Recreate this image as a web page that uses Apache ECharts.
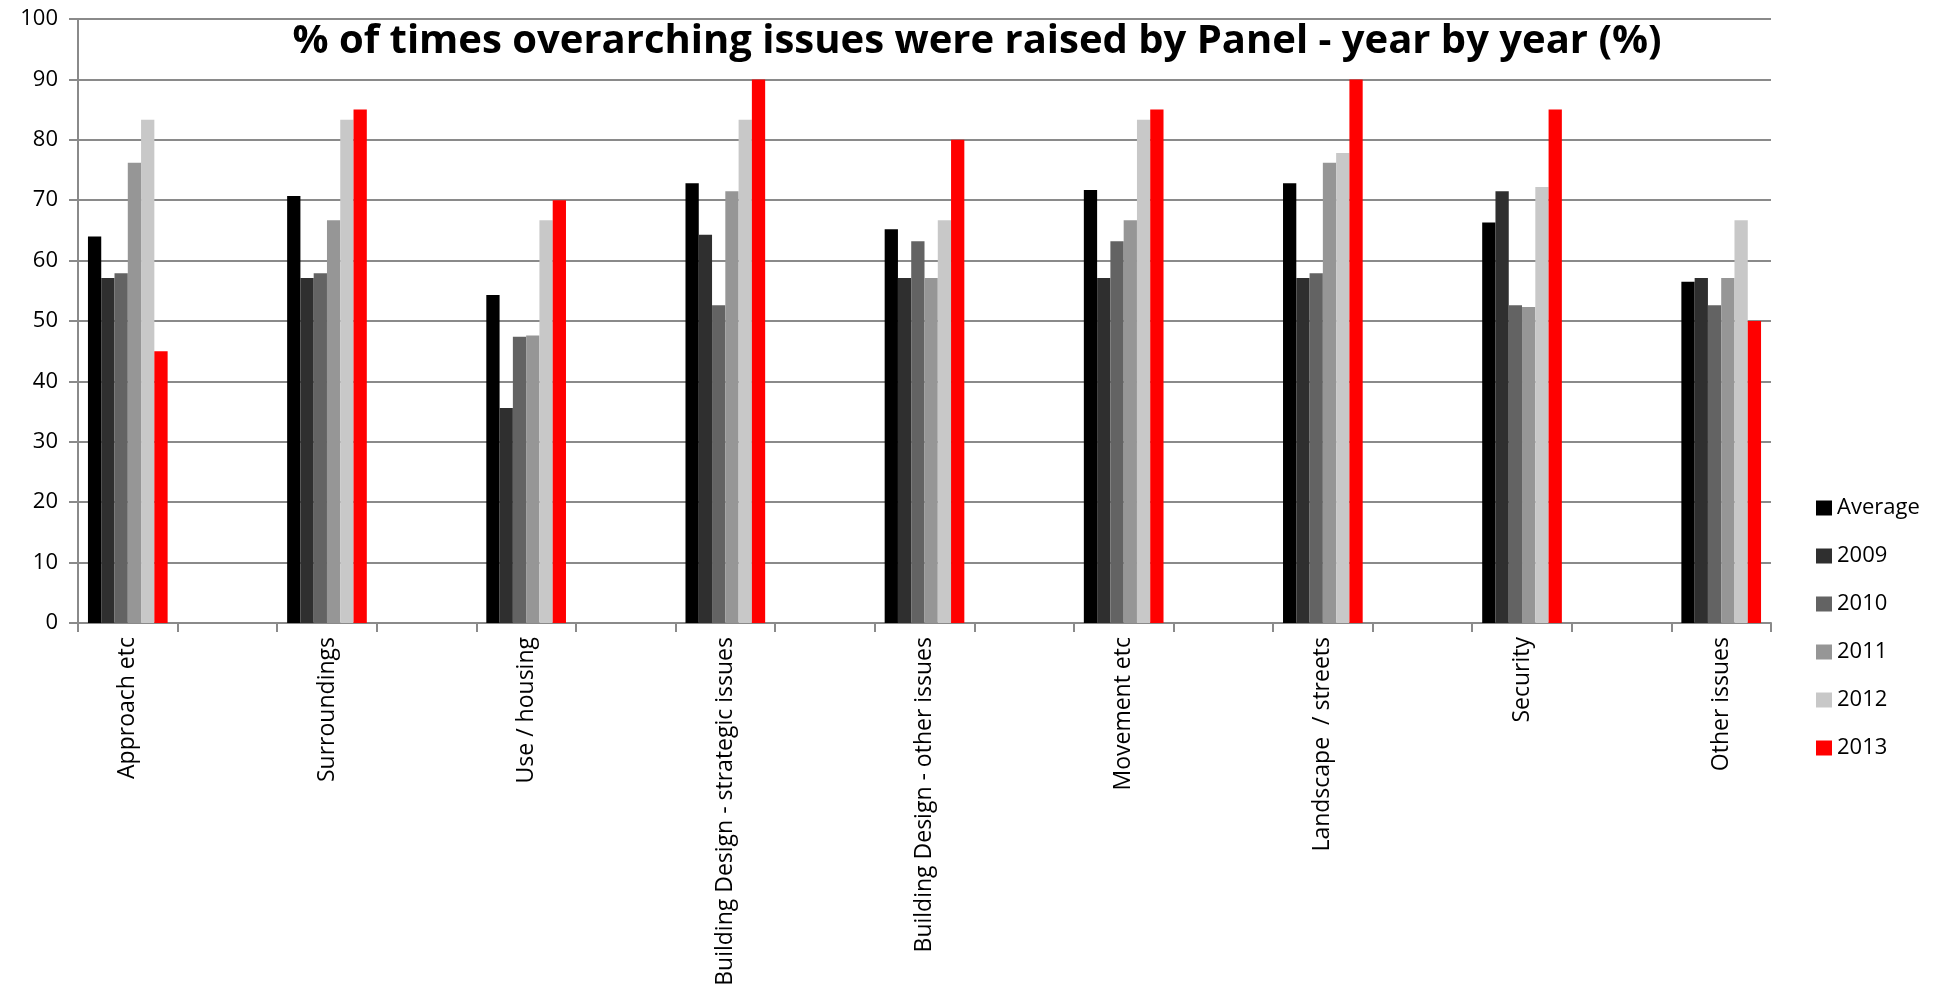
<!DOCTYPE html>
<html>
<head>
<meta charset="utf-8">
<title>Overarching issues raised by Panel</title>
<script src="https://cdn.jsdelivr.net/npm/echarts@6/dist/echarts.min.js"></script>
<style>
  html, body { margin: 0; padding: 0; background: #ffffff; }
  #chart { width: 1945px; height: 997px; }
</style>
</head>
<body>
<div id="chart"></div>
<script>
// Issue categories (a blank spacer slot is placed between each pair on the axis)
const categories = [
  'Approach etc',
  'Surroundings',
  'Use / housing',
  'Building Design - strategic issues',
  'Building Design - other issues',
  'Movement etc',
  'Landscape  / streets',
  'Security',
  'Other issues'
];

// Percentage of times each issue was raised
const average = [64.0, 70.7, 54.3, 72.8, 65.2, 71.7, 72.8, 66.3, 56.5];
const y2009   = [57.1, 57.1, 35.6, 64.3, 57.1, 57.1, 57.1, 71.5, 57.1];
const y2010   = [57.9, 57.9, 47.4, 52.6, 63.2, 63.2, 57.9, 52.6, 52.6];
const y2011   = [76.2, 66.7, 47.6, 71.5, 57.1, 66.7, 76.2, 52.3, 57.1];
const y2012   = [83.3, 83.3, 66.7, 83.3, 66.7, 83.3, 77.8, 72.2, 66.7];
const y2013   = [45.0, 85.0, 70.0, 90.0, 80.0, 85.0, 90.0, 85.0, 50.0];

const seriesNames = ['Average', '2009', '2010', '2011', '2012', '2013'];
const seriesValues = [average, y2009, y2010, y2011, y2012, y2013];
const seriesColors = ['#000000', '#2f2f2f', '#636363', '#969696', '#c8c8c8', '#ff0000'];

const yTicks = [0, 10, 20, 30, 40, 50, 60, 70, 80, 90, 100];

// Interleave categories with empty spacer slots
const axisCats = [];
categories.forEach((c, i) => {
  axisCats.push(c);
  if (i < categories.length - 1) axisCats.push('');
});
function spread(vals) {
  const out = [];
  vals.forEach((v, i) => {
    out.push(v);
    if (i < vals.length - 1) out.push('-');
  });
  return out;
}

const FONT = '"Open Sans", "DejaVu Sans", sans-serif';
const gridGray = '#8a8a8a';

const chart = echarts.init(document.getElementById('chart'), null, { renderer: 'canvas' });

chart.setOption({
  animation: false,
  backgroundColor: '#ffffff',
  title: {
    text: '% of times overarching issues were raised by Panel - year by year (%)',
    left: 972,
    top: 17,
    textAlign: 'center',
    textStyle: { fontFamily: FONT, fontWeight: 'bold', fontSize: 40, color: '#000000' }
  },
  legend: {
    orient: 'vertical',
    left: 1811,
    top: 490,
    itemWidth: 16,
    itemHeight: 15,
    itemGap: 22,
    icon: 'rect',
    data: seriesNames,
    textStyle: { fontFamily: FONT, fontSize: 22, color: '#000000', lineHeight: 26 }
  },
  grid: { left: 78, right: 174, top: 19, bottom: 374, containLabel: false },
  xAxis: {
    type: 'category',
    data: axisCats,
    boundaryGap: true,
    axisLine: { show: true, lineStyle: { color: gridGray, width: 2 } },
    axisTick: { show: true, interval: 0, length: 9, lineStyle: { color: gridGray, width: 2 } },
    axisLabel: {
      interval: 0,
      rotate: 90,
      margin: 14,
      fontFamily: FONT,
      fontSize: 23,
      color: '#000000'
    },
    splitLine: { show: false }
  },
  yAxis: {
    type: 'value',
    min: yTicks[0],
    max: yTicks[yTicks.length - 1],
    interval: 10,
    axisLine: { show: true, lineStyle: { color: gridGray, width: 2 } },
    axisTick: { show: true, length: 9, lineStyle: { color: gridGray, width: 2 } },
    axisLabel: { margin: 20, fontFamily: FONT, fontSize: 22, color: '#000000' },
    splitLine: { show: true, lineStyle: { color: gridGray, width: 2 } }
  },
  series: seriesNames.map((name, i) => ({
    name: name,
    type: 'bar',
    data: spread(seriesValues[i]),
    barGap: '0%',
    barCategoryGap: '20%',
    itemStyle: { color: seriesColors[i] }
  }))
});
</script>
</body>
</html>
